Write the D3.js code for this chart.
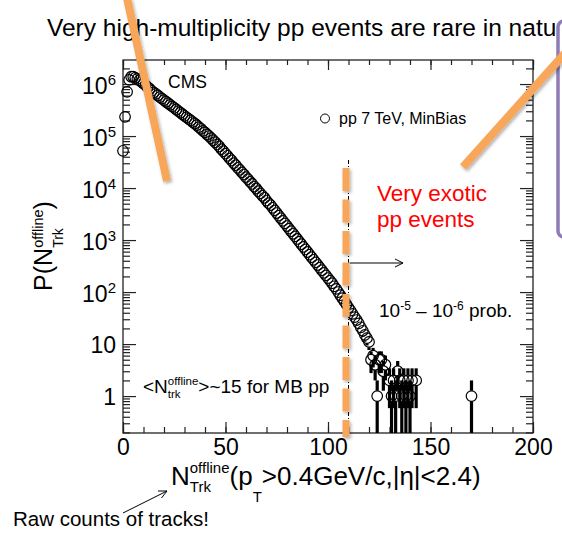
<!DOCTYPE html>
<html>
<head>
<meta charset="utf-8">
<script src="https://cdn.jsdelivr.net/npm/d3@7"></script>
<style>
  body { margin: 0; background: #fff; }
  svg { display: block; font-family: "Liberation Sans", Arial, sans-serif; }
  text { white-space: pre; }
</style>
</head>
<body>
<div id="chart"></div>
<script>

var svgWidth = 562;
var svgHeight = 541;

// plot frame in pixels
var frame = { left: 123, right: 533, top: 60, bottom: 433 };

// multiplicity bins (raw track counts) and number of events in each
var nTrk = [
  0, 1, 2, 3, 4, 5, 6, 7, 8, 9, 10, 11, 12, 13, 14, 15, 16, 17, 18, 19,
  20, 21, 22, 23, 24, 25, 26, 27, 28, 29, 30, 31, 32, 33, 34, 35, 36, 37, 38, 39,
  40, 41, 42, 43, 44, 45, 46, 47, 48, 49, 50, 51, 52, 53, 54, 55, 56, 57, 58, 59,
  60, 61, 62, 63, 64, 65, 66, 67, 68, 69, 70, 71, 72, 73, 74, 75, 76, 77, 78, 79,
  80, 81, 82, 83, 84, 85, 86, 87, 88, 89, 90, 91, 92, 93, 94, 95, 96, 97, 98, 99,
  100, 101, 102, 103, 104, 105, 106, 107, 108, 109, 110, 111, 112, 113, 114, 115, 116, 117, 118, 119,
  120, 121, 122, 123, 124, 125, 126, 127, 128, 130, 131, 132, 133, 134, 135, 136, 137, 138, 139, 140,
  141, 143, 170
];
var events = [
  52000, 234000, 708000, 1200000, 1380000, 1380000, 1320000, 1260000, 1175000, 1100000,
  1020000, 955000, 870000, 813000, 741000, 692000, 646000, 603000, 562000, 525000,
  490000, 457000, 427000, 398000, 372000, 347000, 324000, 302000, 282000, 263000,
  245000, 229000, 214000, 200000, 186000, 174000, 162000, 148000, 138000, 126000,
  117500, 107000, 100000, 91000, 83000, 76000, 69000, 63000, 56000, 51000,
  46000, 41700, 37200, 33900, 30200, 27500, 24500, 22400, 20000, 18200,
  16200, 14800, 13200, 12000, 10700, 9800, 8700, 7900, 7100, 6500,
  5750, 5130, 4700, 4170, 3720, 3310, 2950, 2630, 2340, 2090,
  1860, 1660, 1480, 1320, 1175, 1050, 930, 830, 740, 660,
  590, 525, 468, 417, 372, 331, 295, 263, 234, 209,
  186, 166, 148, 129, 115, 100, 87, 76, 66, 58,
  50, 44, 38, 33, 29, 25, 21, 18, 15, 13,
  11, 5, 6, 4, 1, 5, 5, 3, 4, 2, 1, 2, 1, 3, 2, 1, 2, 1, 2, 1,
  2, 2, 1
];

var xTickValues = [0, 50, 100, 150, 200];
var yDecades = [1, 10, 100, 1e3, 1e4, 1e5, 1e6];
var yDecadeBase = ["1", "10", "10", "10", "10", "10", "10"];
var yDecadeExp = ["", "", "2", "3", "4", "5", "6"];

var cutValue = 110;   // high-multiplicity threshold

var orange = "#f7a65a";

var svg = d3.select("#chart")
  .append("svg")
  .attr("width", svgWidth)
  .attr("height", svgHeight);

// drop shadow for the slide shapes (user space so thin vertical lines still render)
var defs = svg.append("defs");
defs.append("filter")
  .attr("id", "shadow")
  .attr("filterUnits", "userSpaceOnUse")
  .attr("x", 0).attr("y", -10).attr("width", svgWidth).attr("height", svgHeight + 20)
  .append("feDropShadow")
  .attr("dx", 1.5).attr("dy", 2)
  .attr("stdDeviation", 1.5)
  .attr("flood-color", "#000")
  .attr("flood-opacity", 0.3);

// scales
var x = d3.scaleLinear().domain([0, 200]).range([frame.left, frame.right]);
var y = d3.scaleLog().domain([0.195, 2.9e6]).range([frame.bottom, frame.top]);

// helper: text made of pieces with super/subscripts, laid out left to right
function richText(parent, parts, fill) {
  var g = parent.append("g");
  var cursor = 0, lastStart = 0;
  parts.forEach(function(p) {
    var start = p.stack ? lastStart : cursor;
    var t = g.append("text")
      .attr("x", start)
      .attr("y", p.dy || 0)
      .attr("font-size", p.size)
      .attr("fill", fill || "#000")
      .text(p.text);
    var w = t.node().getComputedTextLength();
    lastStart = start;
    cursor = Math.max(cursor, start + w);
  });
  return { g: g, width: cursor };
}

// slide title (the right end hides behind the purple box, as on the slide)
svg.append("text")
  .attr("x", 47)
  .attr("y", 36)
  .attr("font-size", 24.5)
  .attr("fill", "#000")
  .text("Very high-multiplicity pp events are rare in nature");

// purple box at the right edge of the slide
svg.append("rect")
  .attr("x", 558)
  .attr("y", 21)
  .attr("width", 30)
  .attr("height", 216)
  .attr("rx", 6)
  .attr("fill", "#fff")
  .attr("stroke", "#8f7bb6")
  .attr("stroke-width", 3.5);

// axes (ticks point inwards on all four sides)
var frameColor = "#222";

function styleAxis(sel) {
  sel.select(".domain").remove();
  sel.selectAll(".tick line").attr("stroke", frameColor).attr("stroke-width", 1.2);
}

var xMinor = d3.range(0, 201, 10);

svg.append("g")
  .attr("transform", `translate(0, ${frame.bottom})`)
  .call(d3.axisBottom(x).tickValues(xMinor).tickSize(-6).tickFormat(""))
  .call(styleAxis);

svg.append("g")
  .attr("transform", `translate(0, ${frame.bottom})`)
  .call(d3.axisBottom(x).tickValues(xTickValues).tickSize(-11).tickPadding(6).tickFormat(d3.format("d")))
  .call(styleAxis)
  .call(function(g) {
    g.selectAll("text")
      .attr("font-size", 23)
      .attr("font-family", "Liberation Sans, Arial, sans-serif")
      .attr("fill", "#000");
  });

svg.append("g")
  .attr("transform", `translate(0, ${frame.top})`)
  .call(d3.axisTop(x).tickValues(xMinor).tickSize(-5).tickFormat(""))
  .call(styleAxis);

svg.append("g")
  .attr("transform", `translate(0, ${frame.top})`)
  .call(d3.axisTop(x).tickValues(xTickValues).tickSize(-10).tickFormat(""))
  .call(styleAxis);

var yMinor = y.ticks().filter(function(v) {
  return Math.abs(Math.log10(v) - Math.round(Math.log10(v))) > 1e-6;
});

[[d3.axisLeft, frame.left], [d3.axisRight, frame.right]].forEach(function(a) {
  svg.append("g")
    .attr("transform", `translate(${a[1]}, 0)`)
    .call(a[0](y).tickValues(yMinor).tickSize(-7).tickFormat(""))
    .call(styleAxis);
  svg.append("g")
    .attr("transform", `translate(${a[1]}, 0)`)
    .call(a[0](y).tickValues(yDecades).tickSize(-13).tickFormat(""))
    .call(styleAxis);
});

// y tick labels with powers of ten
var yLabels = svg.append("g");
yDecades.forEach(function(v, i) {
  var t = yLabels.append("text")
    .attr("x", 116)
    .attr("y", y(v) + (yDecadeExp[i] ? 9.5 : 8.5))
    .attr("text-anchor", "end")
    .attr("font-size", 23)
    .attr("fill", "#000");
  t.append("tspan").text(yDecadeBase[i]);
  if (yDecadeExp[i]) {
    t.append("tspan").attr("dy", -9).attr("font-size", 15).text(yDecadeExp[i]);
  }
});

// frame
svg.append("rect")
  .attr("x", frame.left)
  .attr("y", frame.top)
  .attr("width", frame.right - frame.left)
  .attr("height", frame.bottom - frame.top)
  .attr("fill", "none")
  .attr("stroke", frameColor)
  .attr("stroke-width", 1.3);

// data points (open circles)
var points = nTrk.map(function(n, i) { return { n: n, c: events[i] }; });
var markerR = 5.3;

var circlesGroup = svg.append("g");
circlesGroup.selectAll("circle")
  .data(points)
  .enter()
  .append("circle")
  .attr("cx", d => x(d.n))
  .attr("cy", d => y(d.c))
  .attr("r", markerR)
  .attr("fill", "none")
  .attr("stroke", "#000")
  .attr("stroke-width", 1.2);

// Poisson error bars, with a gap around the marker
var barsGroup = svg.append("g")
  .attr("stroke", "#000")
  .attr("stroke-width", 3.2);
points.forEach(function(d) {
  var cx = x(d.n), cy = y(d.c);
  var err = Math.sqrt(d.c);
  var yHi = y(d.c + err);
  var yLo = d.c - err > y.domain()[0] ? Math.min(y(d.c - err), frame.bottom) : frame.bottom;
  if (yHi < cy - markerR) {
    barsGroup.append("line").attr("x1", cx).attr("x2", cx).attr("y1", yHi).attr("y2", cy - markerR);
  }
  if (yLo > cy + markerR) {
    barsGroup.append("line").attr("x1", cx).attr("x2", cx).attr("y1", cy + markerR).attr("y2", yLo);
  }
});

// CMS label and legend
svg.append("text")
  .attr("x", 168).attr("y", 88)
  .attr("font-size", 17.5)
  .text("CMS");

svg.append("circle")
  .attr("cx", 325).attr("cy", 118.5).attr("r", 4.5)
  .attr("fill", "#fff").attr("stroke", "#000").attr("stroke-width", 1);
svg.append("text")
  .attr("x", 339).attr("y", 124)
  .attr("font-size", 16)
  .text("pp 7 TeV, MinBias");

// threshold line and arrow
svg.append("line")
  .attr("x1", x(cutValue)).attr("x2", x(cutValue))
  .attr("y1", 160).attr("y2", frame.bottom)
  .attr("stroke", "#000").attr("stroke-width", 1)
  .attr("stroke-dasharray", "4,2,1,2");

svg.append("line")
  .attr("x1", x(cutValue) + 1).attr("x2", 403)
  .attr("y1", 263).attr("y2", 263)
  .attr("stroke", "#000").attr("stroke-width", 1);
svg.append("path")
  .attr("d", "M395,259 L403,263 L395,267")
  .attr("fill", "none").attr("stroke", "#000").attr("stroke-width", 1);

// text annotations inside the plot
svg.append("text")
  .attr("x", 377).attr("y", 201)
  .attr("font-size", 22.5).attr("fill", "#ff0000")
  .text("Very exotic");
svg.append("text")
  .attr("x", 377).attr("y", 227)
  .attr("font-size", 22.5).attr("fill", "#ff0000")
  .text("pp events");

var prob = richText(svg, [
  { text: "10", size: 19 },
  { text: "-5", size: 12, dy: -7 },
  { text: " \u2013 10", size: 19 },
  { text: "-6", size: 12, dy: -7 },
  { text: " prob.", size: 19 }
]);
prob.g.attr("transform", "translate(379, 317)");

var mean = richText(svg, [
  { text: "<N", size: 19 },
  { text: "offline", size: 11.5, dy: -8 },
  { text: "trk", size: 11.5, dy: 5, stack: true },
  { text: ">~15 for MB pp", size: 19 }
]);
mean.g.attr("transform", "translate(143, 393)");

// axis titles
var xTitle = richText(svg, [
  { text: "N", size: 26 },
  { text: "offline", size: 15, dy: -12 },
  { text: "Trk", size: 15, dy: 7, stack: true },
  { text: "(p", size: 26 },
  { text: "T", size: 15, dy: 17 },
  { text: ">0.4GeV/c,|\u03b7|<2.4)", size: 26 }
]);
xTitle.g.attr("transform", "translate(171, 485)");

var yTitle = richText(svg, [
  { text: "P(N", size: 25 },
  { text: "offline", size: 14.5, dy: -9 },
  { text: "Trk", size: 14, dy: 11, stack: true },
  { text: ")", size: 25 }
]);
yTitle.g.attr("transform", `translate(52, ${246 + yTitle.width / 2}) rotate(-90)`);

// note below the plot
svg.append("text")
  .attr("x", 13).attr("y", 526)
  .attr("font-size", 20.5)
  .text("Raw counts of tracks!");
svg.append("line")
  .attr("x1", 123).attr("y1", 513)
  .attr("x2", 167).attr("y2", 491)
  .attr("stroke", "#000").attr("stroke-width", 1);
svg.append("path")
  .attr("d", "M158,491 L167,491 L161.5,498")
  .attr("fill", "none").attr("stroke", "#000").attr("stroke-width", 1);

// orange highlight shapes from the slide
svg.append("line")
  .attr("x1", x(cutValue) - 2.5).attr("x2", x(cutValue) - 2.5)
  .attr("y1", 168).attr("y2", 437)
  .attr("stroke", orange).attr("stroke-width", 7)
  .attr("stroke-dasharray", "23,8.5")
  .attr("filter", "url(#shadow)");

svg.append("line")
  .attr("x1", 127).attr("y1", -2)
  .attr("x2", 167).attr("y2", 181)
  .attr("stroke", orange).attr("stroke-width", 8)
  .attr("filter", "url(#shadow)");

svg.append("line")
  .attr("x1", 566).attr("y1", 52)
  .attr("x2", 463).attr("y2", 167)
  .attr("stroke", orange).attr("stroke-width", 8)
  .attr("filter", "url(#shadow)");

</script>
</body>
</html>
